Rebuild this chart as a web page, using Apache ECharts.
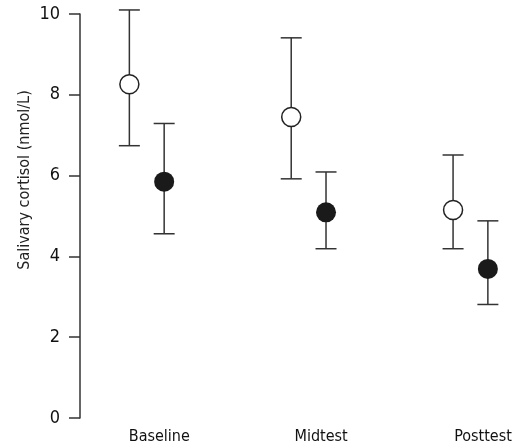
<!DOCTYPE html>
<html>
<head>
<meta charset="utf-8">
<script src="https://cdn.jsdelivr.net/npm/echarts@6/dist/echarts.min.js"></script>
<style>
    html, body {margin: 0; padding: 0; background: #fff;}
    #box {width: 517px; height: 448px;}
</style>
</head>
<body>
<div id="box"></div>
<script>
//数据
var categories = ['Baseline', 'Midtest', 'Posttest'];
var catPos = [0, 1, 2];
var openMean = [8.26, 7.45, 5.15];
var openLow = [6.74, 5.92, 4.19];
var openHigh = [10.1, 9.41, 6.51];
var filledMean = [5.85, 5.09, 3.69];
var filledLow = [4.56, 4.19, 2.81];
var filledHigh = [7.29, 6.09, 4.88];
var yTicks = [0, 2, 4, 6, 8, 10];

var openOffset = -0.185, filledOffset = 0.03;
var font = '"Liberation Sans Narrow", "DejaVu Sans Condensed", sans-serif';

function pts(mean, offset) {
    return mean.map(function (v, i) { return [catPos[i] + offset, v]; });
}
function bars(low, high, offset) {
    return low.map(function (v, i) { return [catPos[i] + offset, v, high[i]]; });
}

//误差线
function renderErr(params, api) {
    var lo = api.coord([api.value(0), api.value(1)]);
    var hi = api.coord([api.value(0), api.value(2)]);
    var w = 10.5;
    var st = {stroke: '#333', lineWidth: 1.5};
    return {
        type: 'group',
        children: [
            {type: 'line', shape: {x1: lo[0], y1: lo[1], x2: hi[0], y2: hi[1]}, style: st},
            {type: 'line', shape: {x1: lo[0] - w, y1: lo[1], x2: lo[0] + w, y2: lo[1]}, style: st},
            {type: 'line', shape: {x1: hi[0] - w, y1: hi[1], x2: hi[0] + w, y2: hi[1]}, style: st}
        ]
    };
}

var chart = echarts.init(document.getElementById('box'));
var option = {
    animation: false,
    grid: {left: 80, right: 0, top: 14, bottom: 30},
    xAxis: {
        type: 'value',
        min: -0.49,
        max: 2.21,
        axisLine: {show: false},
        axisTick: {show: false},
        splitLine: {show: false},
        axisLabel: {
            customValues: catPos,
            margin: 11,
            color: '#111',
            fontFamily: font,
            fontSize: 16,
            formatter: function (v) { return categories[Math.round(v)]; }
        }
    },
    yAxis: {
        type: 'value',
        min: 0,
        max: 10,
        interval: 2,
        axisLine: {show: true, onZero: false, lineStyle: {color: '#333', width: 1.5}},
        axisTick: {show: true, inside: false, length: 11, lineStyle: {color: '#333', width: 1.5}},
        splitLine: {show: false},
        axisLabel: {
            margin: 20,
            color: '#111',
            fontFamily: font,
            fontSize: 18,
            formatter: function (v) { return yTicks.indexOf(v) >= 0 ? String(v) : ''; }
        }
    },
    graphic: [{
        type: 'text',
        x: 25,
        y: 180,
        rotation: Math.PI / 2,
        style: {
            text: 'Salivary cortisol (nmol/L)',
            fontFamily: font,
            fontSize: 16,
            fill: '#222',
            align: 'center',
            verticalAlign: 'middle'
        }
    }],
    series: [
        {type: 'custom', renderItem: renderErr, data: bars(openLow, openHigh, openOffset), z: 1},
        {type: 'custom', renderItem: renderErr, data: bars(filledLow, filledHigh, filledOffset), z: 1},
        {
            type: 'scatter', symbol: 'circle', symbolSize: 19, z: 3,
            itemStyle: {color: '#fff', borderColor: '#222', borderWidth: 1.5, opacity: 1},
            data: pts(openMean, openOffset)
        },
        {
            type: 'scatter', symbol: 'circle', symbolSize: 20, z: 3,
            itemStyle: {color: '#1a1a1a', opacity: 1},
            data: pts(filledMean, filledOffset)
        }
    ]
};
chart.setOption(option);
</script>
</body>
</html>
